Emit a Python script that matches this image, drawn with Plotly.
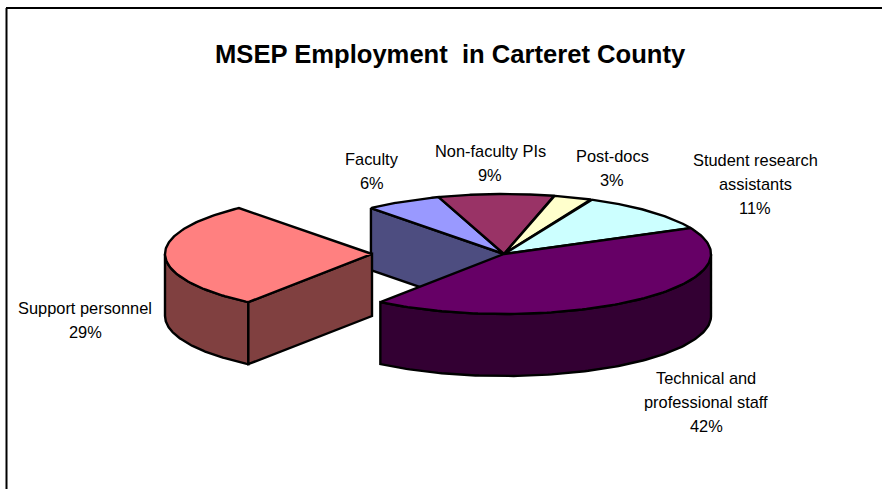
import numpy as np
import plotly.graph_objects as go

# Data
categories = ["Faculty", "Non-faculty PIs", "Post-docs", "Student research assistants",
              "Technical and professional staff", "Support personnel"]
values = [6, 9, 3, 11, 42.3, 28.7]

label_text = ["Faculty<br>6%", "Non-faculty PIs<br>9%", "Post-docs<br>3%",
              "Student research<br>assistants<br>11%",
              "Technical and<br>professional staff<br>42%", "Support personnel<br>29%"]
label_x = [372, 490, 612, 755, 706, 85]
label_y = [171, 163, 168, 184, 402, 320]

top_colors = ["#9999FF", "#993366", "#FFFFCC", "#CCFFFF", "#660066", "#FF8080"]
side_colors = ["#4D4D80", "#4D1A33", "#808066", "#668080", "#330033", "#804040"]
explode_x = [0, 0, 0, 0, 0, -132]

# Pie projection
CX, CY = 504, 254
RX, RY = 207, 60
DEPTH = 62
START = -40.0
LINE_PITCH = 24

total = sum(values)
edges = START + np.cumsum([0] + values) * 360.0 / total


def rim(t_deg, cx, dy=0):
    t = np.radians(t_deg)
    return cx + RX * np.sin(t), CY - RY * np.cos(t) + dy


def poly(x, y, fill, name):
    return go.Scatter(x=np.asarray(x), y=np.asarray(y), mode="lines", fill="toself",
                      fillcolor=fill, line=dict(color="black", width=2.4, shape="linear"),
                      hoverinfo="text", text=name, showlegend=False)


def wedge(i):
    cx = CX + explode_x[i]
    ts = np.linspace(edges[i], edges[i + 1], 120)
    x, y = rim(ts, cx)
    return poly(np.r_[cx, x, cx], np.r_[CY, y, CY], top_colors[i], categories[i])


def cut_face(i, t_deg):
    cx = CX + explode_x[i]
    x0, y0 = rim(t_deg, cx)
    return poly([x0, cx, cx, x0, x0], [y0, CY, CY + DEPTH, y0 + DEPTH, y0],
                side_colors[i], categories[i])


def outer_wall(i, t0, t1):
    cx = CX + explode_x[i]
    ts = np.linspace(t0, t1, 120)
    x, y = rim(ts, cx)
    return poly(np.r_[x, x[::-1], x[0]], np.r_[y, y[::-1] + DEPTH, y[0]],
                side_colors[i], categories[i])


fig = go.Figure()

# Back to front
fig.add_trace(cut_face(0, edges[0]))
for i in range(4):
    fig.add_trace(wedge(i))
fig.add_trace(outer_wall(4, 90, edges[5]))
fig.add_trace(wedge(4))
fig.add_trace(outer_wall(5, edges[5], 270))
fig.add_trace(cut_face(5, edges[5]))
fig.add_trace(wedge(5))

for txt, x, y in zip(label_text, label_x, label_y):
    lines = txt.split("<br>")
    for k, line in enumerate(lines):
        fig.add_annotation(x=x, y=y + (k - (len(lines) - 1) / 2) * LINE_PITCH, text=line,
                           showarrow=False, xanchor="center", yanchor="middle", align="center",
                           font=dict(family="Liberation Sans", size=16.4, color="black"))

fig.add_annotation(x=450, y=54, text="<b>MSEP Employment  in Carteret County</b>", showarrow=False,
                   xanchor="center", yanchor="middle",
                   font=dict(family="Liberation Sans", size=25.6, color="black"))

# Chart frame: only the left and top edges fall inside the picture
fig.add_shape(type="line", x0=6.5, x1=6.5, y0=8, y1=489, line=dict(color="black", width=2))
fig.add_shape(type="line", x0=6, x1=882, y0=8, y1=8, line=dict(color="black", width=2))

fig.update_layout(
    width=882, height=489, autosize=False,
    margin=dict(l=0, r=0, t=0, b=0),
    paper_bgcolor="white", plot_bgcolor="white",
    xaxis=dict(range=[0, 882], visible=False, fixedrange=True),
    yaxis=dict(range=[489, 0], visible=False, fixedrange=True),
    showlegend=False,
)
fig.write_html("out.html", config={"displayModeBar": False},
               post_script="document.body.style.margin='0';document.documentElement.style.overflow='hidden';")
